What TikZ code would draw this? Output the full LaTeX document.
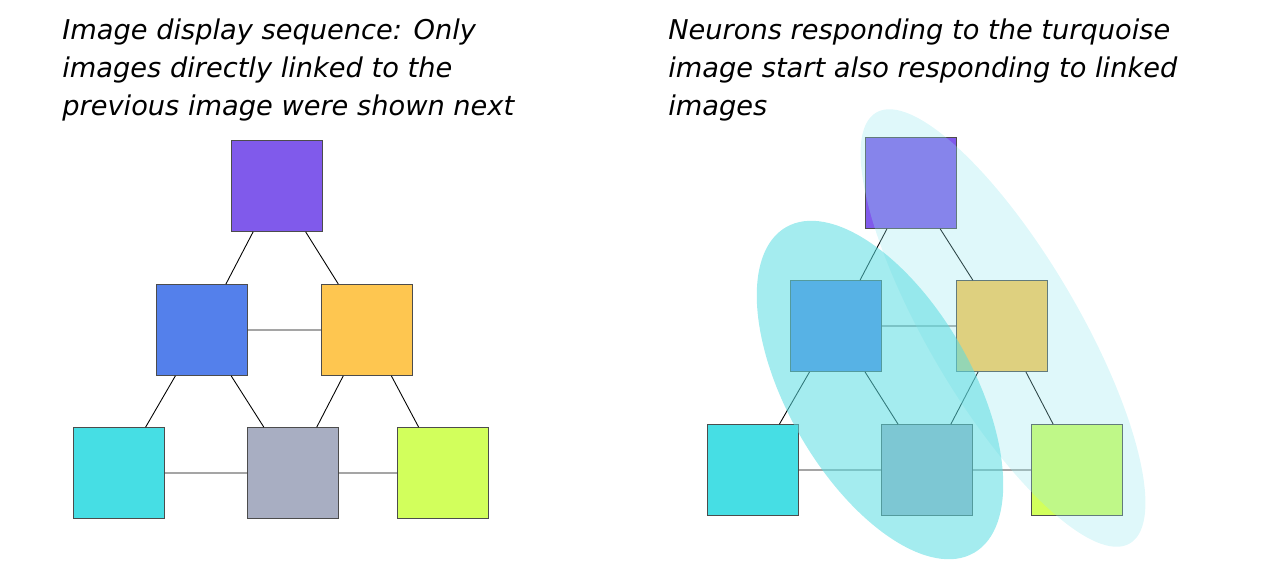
\documentclass[tikz,border=0pt]{standalone}
\usepackage{fontspec}
\setmainfont{DejaVu Sans}
\usetikzlibrary{positioning}

\begin{document}
\begin{tikzpicture}[x=0.02cm,y=-0.02cm,
    img/.style={draw=black!70,line width=0.4pt,minimum size=1.82cm,inner sep=0pt},
    link/.style={draw=black,line width=0.5pt},
    caption/.style={anchor=west,inner sep=0pt,font=\fontsize{15.5}{18}\selectfont\itshape}]
        \useasboundingbox (0,0) rectangle (1279,579);
        \definecolor{cpurple}{RGB}{128,90,235}
        \definecolor{cblue}{RGB}{84,128,235}
        \definecolor{corange}{RGB}{254,198,80}
        \definecolor{cturq}{RGB}{70,222,228}
        \definecolor{cgray}{RGB}{168,174,194}
        \definecolor{clime}{RGB}{210,255,92}
        \definecolor{cglow}{RGB}{90,220,225}
        \definecolor{cpale}{RGB}{150,232,238}
        % captions
        \node[caption] (t1) at (62,32) {Image display sequence: Only};
        \node[caption] (t2) at (62,70) {images directly linked to the};
        \node[caption] (t3) at (62,108) {previous image were shown next};
        \node[caption] (u1) at (668,32) {Neurons responding to the turquoise};
        \node[caption] (u2) at (668,70) {image start also responding to linked};
        \node[caption] (u3) at (668,108) {images};
        % left graph
        \node[img,fill=cpurple] (A) at (277,186) {};
        \node[img,fill=cblue]   (B) at (202,330) {};
        \node[img,fill=corange] (C) at (367,330) {};
        \node[img,fill=cturq]   (D) at (119,473) {};
        \node[img,fill=cgray]   (E) at (293,473) {};
        \node[img,fill=clime]   (F) at (443,473) {};
        \draw[link] (A) -- (B) (A) -- (C) (B) -- (C) (B) -- (D) (B) -- (E)
            (C) -- (E) (C) -- (F) (D) -- (E) (E) -- (F);
        % right graph
        \node[img,fill=cpurple] (A2) at (911,183) {};
        \node[img,fill=cblue]   (B2) at (836,326) {};
        \node[img,fill=corange] (C2) at (1002,326) {};
        \node[img,fill=cturq]   (D2) at (753,470) {};
        \node[img,fill=cgray]   (E2) at (927,470) {};
        \node[img,fill=clime]   (F2) at (1077,470) {};
        \draw[link] (A2) -- (B2) (A2) -- (C2) (B2) -- (C2) (B2) -- (D2) (B2) -- (E2)
            (C2) -- (E2) (C2) -- (F2) (D2) -- (E2) (E2) -- (F2);
        % responding groups
        \coordinate (G1) at (1003,328);
        \coordinate (G2) at (880,390);
        \fill[cpale,opacity=0.3,rotate around={-59.5:(G1)}]
            (G1) circle [x radius=250,y radius=75];
        \fill[cglow,opacity=0.55,rotate around={-60:(G2)}]
            (G2) circle [x radius=188,y radius=92];
    \end{tikzpicture}
\end{document}
